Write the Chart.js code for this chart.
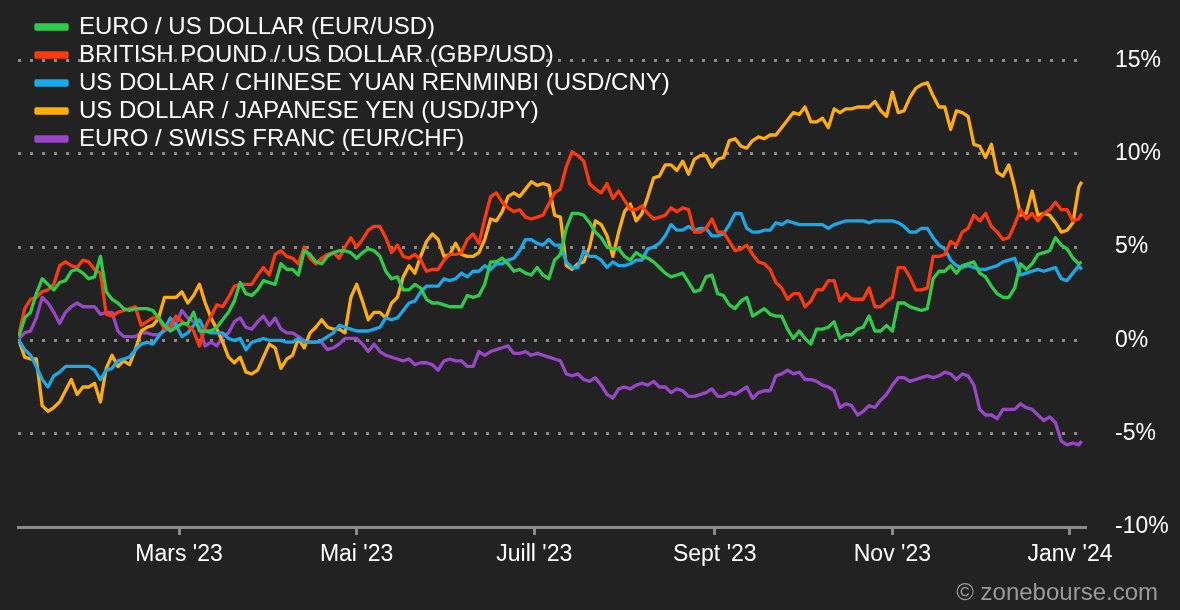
<!DOCTYPE html>
<html lang="fr">

<head>
  <meta charset="utf-8" />
  <title>Devises 1 an</title>
  <script src="https://cdn.jsdelivr.net/npm/chart.js@4.4.1/dist/chart.umd.min.js"></script>
  <style>
    html, body { margin: 0; padding: 0; background: #222222; }
    #wrap { position: relative; width: 1180px; height: 610px; }
    .copyright {
      position: absolute; right: 22px; bottom: 4px;
      font: 24px Arial, "Liberation Sans", sans-serif; color: #9a9a9a;
    }
  </style>
</head>

<body>
  <div id="wrap">
    <canvas id="fx-chart"></canvas>
    <div class="copyright">© zonebourse.com</div>
  </div>

<script>
  // jours depuis le 1er janvier 2023
  const days = [4, 6, 8, 10, 12, 14, 16, 18, 20, 22,
    24, 26, 28, 30, 32, 34, 36, 38, 40, 42,
    44, 46, 48, 50, 52, 54, 56, 58, 60, 62,
    64, 66, 68, 70, 72, 74, 76, 78, 80, 82,
    84, 86, 88, 90, 92, 94, 96, 98, 100, 102,
    104, 106, 108, 110, 112, 114, 116, 118, 120, 122,
    124, 126, 128, 130, 132, 134, 136, 138, 140, 142,
    144, 146, 148, 150, 152, 154, 156, 158, 160, 162,
    164, 166, 168, 170, 172, 174, 176, 178, 180, 182,
    184, 186, 188, 190, 192, 194, 196, 198, 200, 202,
    204, 206, 208, 210, 212, 214, 216, 218, 220, 222,
    224, 226, 228, 230, 232, 234, 236, 238, 240, 242,
    244, 246, 248, 250, 252, 254, 256, 258, 260, 262,
    264, 266, 268, 270, 272, 274, 276, 278, 280, 282,
    284, 286, 288, 290, 292, 294, 296, 298, 300, 302,
    304, 306, 308, 310, 312, 314, 316, 318, 320, 322,
    324, 326, 328, 330, 332, 334, 336, 338, 340, 342,
    344, 346, 348, 350, 352, 354, 356, 358, 360, 362,
    364, 366, 368, 369];

  const eurUsd = [0.2, 1.2, 1.5, 2.5, 3.3, 3.0, 2.7, 3.1, 3.2, 3.7,
    3.8, 3.6, 3.3, 3.4, 4.5, 2.6, 2.2, 2.0, 1.7, 1.6,
    1.7, 1.7, 1.7, 1.6, 1.2, 0.8, 0.5, 0.7, 0.9, 0.9,
    1.5, 0.5, 0.5, 0.5, 0.7, 1.1, 1.5, 2.1, 3.1, 2.5,
    2.4, 2.7, 3.2, 3.1, 3.0, 4.1, 3.8, 3.8, 3.5, 4.8,
    4.6, 4.2, 4.1, 4.5, 4.7, 4.8, 4.8, 4.7, 4.4, 4.7,
    4.9, 4.8, 4.5, 3.7, 3.3, 3.4, 2.7, 2.7, 3.0, 2.8,
    2.2, 2.0, 2.0, 1.9, 1.8, 1.8, 1.8, 2.4, 2.3, 2.4,
    3.0, 4.2, 4.2, 4.4, 4.1, 3.7, 3.8, 3.6, 3.5, 3.9,
    3.5, 3.3, 4.3, 4.6, 6.0, 6.8, 6.8, 6.7, 6.3, 5.8,
    5.5, 5.0, 4.9, 4.9, 4.5, 4.3, 4.7, 4.5, 4.4, 4.2,
    3.9, 3.6, 3.4, 3.5, 3.6, 3.1, 2.6, 2.7, 3.4, 3.5,
    2.5, 2.4, 1.9, 1.7, 2.1, 2.3, 1.3, 1.5, 1.7, 1.4,
    1.3, 1.3, 0.6, 0.1, 0.5, 0.1, -0.2, 0.6, 0.6, 0.7,
    1.0, 0.1, 0.3, 0.3, 0.6, 0.7, 1.3, 0.5, 0.5, 0.8,
    0.5, 2.0, 2.0, 1.8, 1.7, 1.6, 1.7, 3.3, 3.7, 3.7,
    4.0, 3.6, 4.0, 4.1, 4.2, 3.6, 3.4, 2.9, 2.5, 2.3,
    2.3, 2.8, 4.1, 3.8, 4.1, 4.6, 4.7, 4.8, 5.5, 5.1,
    4.9, 4.4, 4.1, 4.2];

  const gbpUsd = [0.3, 1.7, 2.2, 2.3, 2.6, 2.7, 3.0, 4.0, 4.2, 4.0,
    3.9, 4.3, 4.2, 3.8, 3.6, 1.4, 1.3, 1.5, 1.6, 1.7,
    1.8, 0.8, 1.0, 1.2, 1.2, 0.6, 0.8, 1.3, 1.0, 0.8,
    0.5, -0.3, 0.7, 1.3, 1.9, 1.8, 2.3, 2.9, 3.0, 3.0,
    3.0, 3.5, 3.9, 3.5, 4.6, 4.8, 4.5, 4.4, 4.1, 5.0,
    4.4, 4.1, 4.4, 4.6, 4.7, 4.4, 5.0, 5.5, 5.0, 5.4,
    5.9, 6.1, 6.1, 5.5, 4.7, 5.1, 4.5, 4.4, 4.6, 4.3,
    3.7, 3.8, 3.8, 4.3, 4.6, 4.6, 4.7, 5.4, 5.7, 5.2,
    6.5, 7.7, 7.9, 7.4, 7.1, 6.9, 7.0, 6.6, 6.5, 6.6,
    6.7, 7.3, 7.9, 8.1, 9.3, 10.1, 9.9, 9.6, 8.4, 8.1,
    7.9, 8.4, 7.6, 8.0, 7.5, 7.0, 7.0, 7.2, 6.8, 6.5,
    6.6, 6.7, 7.1, 6.9, 7.1, 7.0, 5.8, 5.8, 6.0, 6.5,
    5.8, 5.8, 5.3, 4.8, 4.9, 5.1, 4.6, 4.2, 4.1, 3.8,
    3.1, 2.8, 2.2, 2.5, 2.5, 1.8, 2.1, 2.7, 2.7, 3.2,
    3.2, 2.1, 2.5, 2.2, 2.2, 2.2, 2.8, 1.8, 1.8, 2.1,
    2.3, 3.9, 3.9, 3.4, 2.7, 2.7, 2.8, 4.5, 4.5, 4.6,
    5.3, 5.1, 5.8, 6.0, 6.7, 6.4, 6.8, 6.1, 5.8, 5.4,
    5.5, 6.2, 7.0, 6.5, 6.8, 6.4, 6.8, 7.0, 7.4, 7.0,
    7.0, 6.4, 6.5, 6.8];

  const usdCny = [0.0, -0.5, -0.8, -1.4, -2.1, -2.5, -1.9, -1.7, -1.4, -1.4,
    -1.4, -1.4, -1.4, -1.6, -2.1, -1.6, -1.5, -1.1, -1.0, -0.9,
    -0.5, -0.2, -0.1, -0.2, 0.2, 0.6, 1.2, 0.8, 0.2, 0.4,
    0.8, 1.1, 0.5, 0.4, 0.4, 0.4, 0.1, 0.0, 0.1, -0.5,
    -0.1, 0.0, 0.1, 0.0, 0.0, 0.0, -0.1, -0.1, 0.1, -0.1,
    -0.1, -0.1, 0.0, 0.2, 0.4, 0.8, 0.7, 0.6, 0.5, 0.5,
    0.5, 0.6, 0.7, 1.2, 1.1, 1.2, 1.6, 2.0, 2.1, 2.6,
    2.9, 2.9, 2.9, 3.3, 3.2, 3.3, 3.6, 3.4, 3.7, 3.7,
    4.0, 3.8, 4.1, 4.1, 4.3, 4.4, 4.8, 5.4, 5.4, 5.2,
    5.1, 5.4, 5.1, 5.1, 4.2, 3.9, 3.9, 4.8, 4.5, 4.5,
    4.3, 3.9, 4.2, 4.0, 4.0, 4.1, 4.3, 4.3, 4.9, 5.0,
    5.2, 5.6, 6.2, 5.9, 5.9, 6.1, 5.9, 6.0, 6.0, 5.6,
    5.6, 5.7, 6.2, 6.8, 6.8, 6.0, 5.8, 5.8, 5.9, 5.9,
    6.3, 6.2, 6.4, 6.3, 6.2, 6.2, 6.2, 6.2, 6.2, 6.0,
    6.2, 6.3, 6.4, 6.4, 6.4, 6.4, 6.3, 6.4, 6.4, 6.4,
    6.4, 6.3, 6.1, 5.8, 5.8, 6.0, 6.0, 5.5, 5.1, 4.9,
    4.3, 4.0, 3.9, 4.0, 3.9, 3.8, 3.8, 3.9, 4.0, 4.2,
    4.3, 4.4, 3.5, 3.6, 3.7, 3.8, 3.7, 3.8, 3.9, 3.3,
    3.2, 3.6, 4.0, 3.8];

  const usdJpy = [0.0, -0.9, -1.0, -1.0, -3.5, -3.8, -3.6, -3.3, -2.7, -2.1,
    -2.9, -2.5, -2.5, -2.3, -3.3, -1.5, -0.8, -1.4, -1.1, -1.3,
    -0.5, 0.5, 0.7, 0.8, 1.2, 2.3, 2.3, 2.3, 2.6, 2.0,
    2.4, 3.0, 2.0, 1.2, 0.6, -0.1, -0.9, -1.2, -0.9, -1.7,
    -1.8, -1.6, -0.9, -0.2, -0.4, -1.5, -1.0, -0.8, 0.1, -0.4,
    0.4, 0.7, 1.1, 0.7, 0.6, 0.6, 0.4, 2.3, 3.0, 2.1,
    1.1, 1.5, 1.5, 1.2, 2.0, 2.3, 3.4, 4.0, 3.6, 4.5,
    5.3, 5.7, 5.4, 4.5, 4.6, 5.2, 4.6, 4.5, 4.5, 4.7,
    5.4, 6.5, 6.4, 6.9, 7.7, 7.9, 7.7, 8.1, 8.5, 8.3,
    8.4, 8.3, 6.7, 6.6, 4.0, 3.8, 4.1, 4.2, 5.0, 6.4,
    6.2, 5.6, 4.5, 5.8, 6.9, 7.3, 6.4, 6.8, 7.7, 8.7,
    8.8, 9.4, 9.4, 9.1, 9.6, 8.9, 9.7, 9.9, 9.9, 9.3,
    9.7, 9.8, 10.7, 10.8, 10.4, 10.3, 10.7, 10.9, 10.8, 11.0,
    11.0, 11.4, 11.8, 12.2, 12.1, 12.5, 11.7, 11.7, 11.9, 11.4,
    12.4, 12.2, 12.4, 12.4, 12.5, 12.5, 12.5, 12.8, 12.3, 12.0,
    13.3, 12.2, 12.3, 13.0, 13.5, 13.7, 13.8, 13.1, 12.5, 12.5,
    11.3, 12.3, 12.2, 12.0, 10.5, 10.4, 9.8, 10.5, 9.0, 8.8,
    9.4, 8.2, 6.7, 6.8, 8.0, 6.7, 6.8, 6.7, 6.3, 5.8,
    5.9, 6.3, 8.2, 8.5];

  const eurChf = [0.1, 0.4, 0.5, 1.2, 2.3, 2.0, 1.5, 0.9, 1.5, 1.8,
    2.0, 1.8, 1.8, 1.8, 1.4, 1.5, 1.5, 0.5, 0.2, 0.2,
    0.2, 0.4, 0.4, 0.3, 0.3, 0.5, 0.7, 0.9, 1.6, 1.2,
    1.0, 0.7, -0.3, -0.1, -0.3, 0.2, 0.4, 1.0, 1.2, 0.7,
    0.6, 1.0, 1.3, 0.8, 1.2, 0.6, 0.4, 0.4, 0.2, 0.0,
    -0.1, -0.1, -0.1, -0.5, -0.4, -0.2, 0.1, 0.1, 0.1, -0.2,
    -0.6, -0.2, -0.6, -0.8, -0.9, -1.0, -1.1, -1.0, -1.3, -1.2,
    -1.2, -1.3, -1.6, -1.1, -1.0, -1.1, -1.1, -1.4, -1.4, -0.6,
    -0.8, -0.6, -0.5, -0.4, -0.3, -0.7, -0.7, -0.6, -0.8, -0.7,
    -0.8, -0.9, -1.0, -1.1, -1.8, -1.9, -1.8, -2.1, -2.2, -2.0,
    -2.4, -2.9, -3.1, -2.6, -2.5, -2.6, -2.4, -2.3, -2.4, -2.2,
    -2.5, -2.5, -2.8, -2.6, -2.7, -3.0, -3.0, -2.9, -2.8, -2.6,
    -3.0, -3.0, -2.8, -2.9, -2.7, -2.5, -3.1, -2.8, -2.7, -2.7,
    -1.9, -1.8, -1.6, -1.8, -1.7, -2.1, -2.1, -2.2, -2.4, -2.5,
    -2.7, -3.6, -3.4, -3.5, -4.0, -3.8, -3.5, -3.6, -3.2, -2.9,
    -2.4, -2.0, -2.0, -2.2, -2.1, -2.0, -1.9, -2.0, -1.9, -1.7,
    -1.8, -2.1, -1.8, -1.9, -2.4, -3.7, -4.0, -4.0, -4.2, -3.7,
    -3.7, -3.7, -3.4, -3.6, -3.7, -4.0, -4.3, -4.1, -4.4, -5.4,
    -5.6, -5.5, -5.6, -5.4];

  // axe des dates : 1er du mois (jours depuis le 01/01/2023)
  const tickDays = [59, 120, 181, 243, 304, 365];
  const tickLabels = ["Mars '23", "Mai '23", "Juill '23", "Sept '23", "Nov '23", "Janv '24"];
  const yTicks = [-10, -5, 0, 5, 10, 15];

  const GRAY = '#8a8a8a';
  const FONT = { family: 'Arial, "Liberation Sans", sans-serif', size: 23 };

  function serie(label, values, color) {
    return {
      label: label,
      data: days.map((d, i) => ({ x: d, y: values[i] })),
      borderColor: color,
      backgroundColor: color,
      borderWidth: 3.3,
      pointRadius: 0,
      tension: 0,
      borderJoinStyle: 'round',
    };
  }

  // légende posée en haut à gauche, par-dessus les courbes
  const legendPos = {
    id: 'legendPos',
    afterLayout(chart) {
      const lg = chart.legend;
      if (!lg) return;
      const w = lg.right - lg.left, h = lg.bottom - lg.top;
      lg.left = 32; lg.top = 11;
      lg.right = lg.left + w; lg.bottom = lg.top + h;
    }
  };

  const fxData = {
    datasets: [
      serie('EURO / US DOLLAR (EUR/USD)', eurUsd, '#2ecc4a'),
      serie('BRITISH POUND / US DOLLAR (GBP/USD)', gbpUsd, '#ff3a0a'),
      serie('US DOLLAR / CHINESE YUAN RENMINBI (USD/CNY)', usdCny, '#1aa8e8'),
      serie('US DOLLAR / JAPANESE YEN (USD/JPY)', usdJpy, '#ffad0a'),
      serie('EURO / SWISS FRANC (EUR/CHF)', eurChf, '#9a46c9'),
    ]
  };

  const fxConfig = {
    type: 'line',
    data: fxData,
    plugins: [legendPos],
    options: {
      responsive: true,
      maintainAspectRatio: false,
      animation: false,
      layout: { padding: { left: 18, top: 23, right: 0, bottom: 0 } },
      plugins: {
        tooltip: { enabled: false },
        legend: {
          position: 'chartArea',
          align: 'start',
          labels: {
            color: '#ffffff',
            font: { family: FONT.family, size: 24 },
            boxWidth: 31,
            boxHeight: 4,
            padding: 4,
          }
        }
      },
      scales: {
        x: {
          type: 'linear',
          min: 3.7,
          max: 370.5,
          afterBuildTicks: s => { s.ticks = tickDays.map(v => ({ value: v })); },
          afterFit: s => { s.height = 83; },
          ticks: {
            color: '#ffffff',
            font: FONT,
            padding: 6,
            maxRotation: 0,
            autoSkip: false,
            callback: v => tickLabels[tickDays.indexOf(v)],
          },
          grid: { drawOnChartArea: false, drawTicks: true, tickLength: 8, tickColor: GRAY, tickWidth: 3 },
          border: { color: GRAY, width: 3 },
        },
        y: {
          position: 'right',
          min: -10,
          max: 17,
          afterBuildTicks: s => { s.ticks = yTicks.map(v => ({ value: v })); },
          afterFit: s => { s.width = 94; s.paddingTop = 0; s.paddingBottom = 0; },
          ticks: {
            color: '#ffffff',
            font: FONT,
            padding: 29,
            callback: v => v + '%',
          },
          grid: {
            drawTicks: false,
            lineWidth: 3,
            color: c => (c.tick && c.tick.value === -10) ? 'rgba(0,0,0,0)' : GRAY,
          },
          border: { display: false, dash: [3, 9] },
        }
      }
    }
  };

  new Chart(document.getElementById('fx-chart'), fxConfig);
</script>

</body>

</html>
